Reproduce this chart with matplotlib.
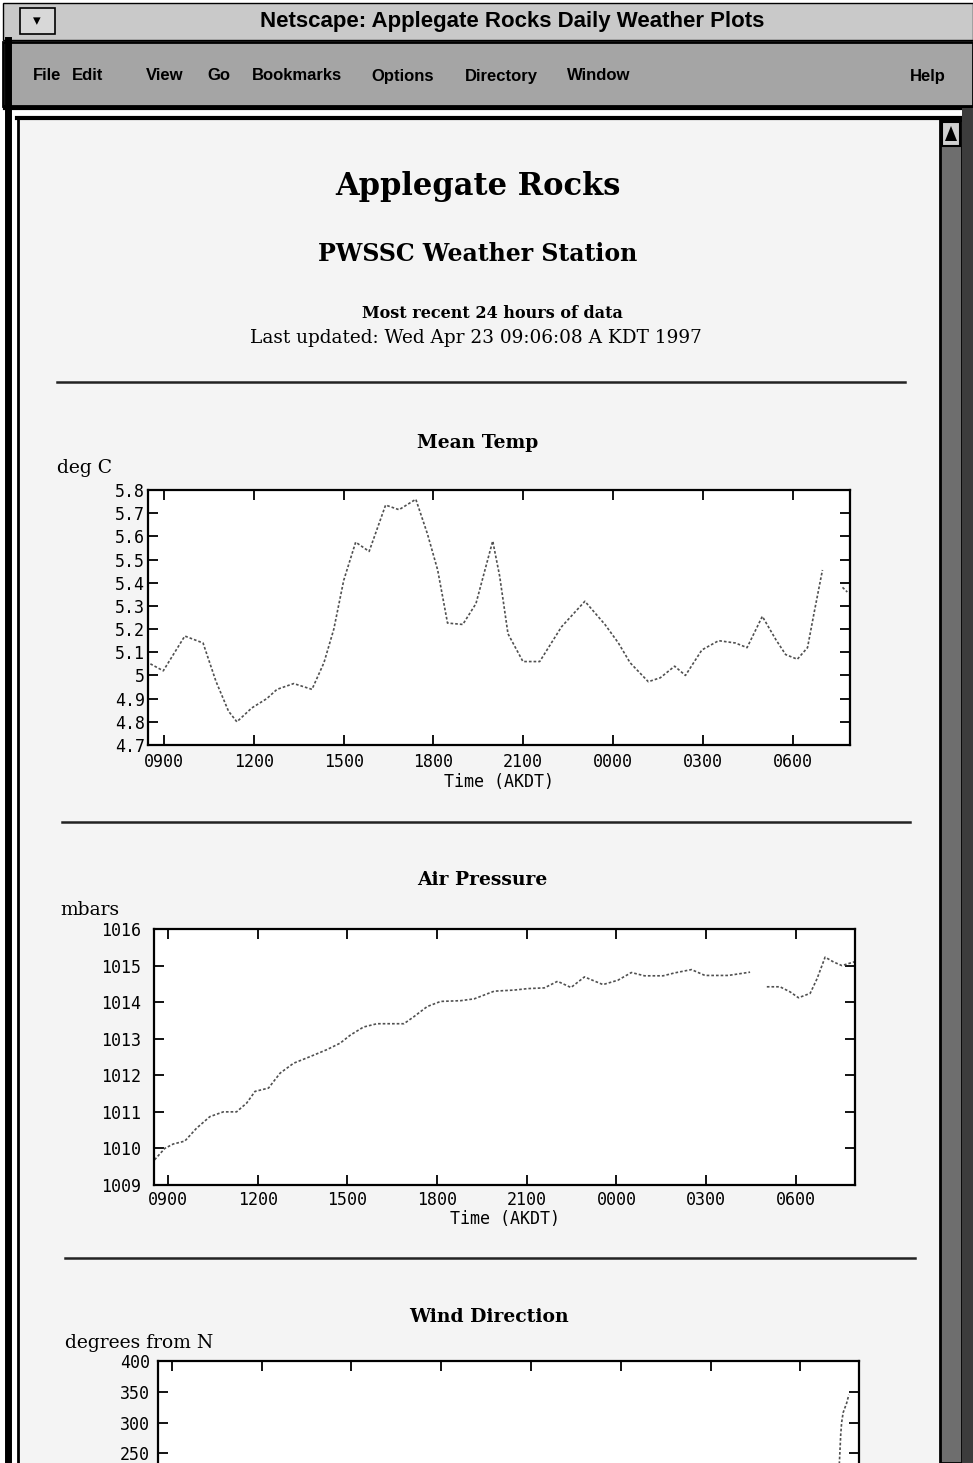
import numpy as np
import matplotlib
matplotlib.use("Agg")
import matplotlib.pyplot as plt
from matplotlib.patches import Rectangle, Polygon

# ---------------- data ----------------
hour_ticks = [9, 12, 15, 18, 21, 24, 27, 30]
hour_labels = ["0900", "1200", "1500", "1800", "2100", "0000", "0300", "0600"]

temp_hours = [8.54, 8.97, 9.69, 10.3, 10.73, 11.15, 11.43, 11.93, 12.43, 12.77,
              13.33, 13.94, 14.34, 14.67, 15.0, 15.4, 15.85, 16.4, 16.85, 17.41,
              17.8, 18.14, 18.47, 18.98, 19.42, 19.98, 20.21, 20.49, 20.99, 21.55,
              22.28, 23.06, 23.73, 24.18, 24.57, 25.18, 25.58, 26.06, 26.42, 26.97,
              27.53, 28.09, 28.48, 28.99, 29.44, 29.77, 30.16, 30.5, 30.72, 31.0,
              np.nan, 31.67, 31.83]
temp_vals = [5.05, 5.02, 5.17, 5.14, 4.975, 4.846, 4.80, 4.86, 4.90, 4.94,
             4.965, 4.94, 5.055, 5.20, 5.41, 5.575, 5.535, 5.735, 5.715, 5.76,
             5.61, 5.455, 5.226, 5.22, 5.31, 5.58, 5.43, 5.18, 5.06, 5.06,
             5.21, 5.32, 5.22, 5.14, 5.055, 4.973, 4.99, 5.04, 5.0, 5.11,
             5.15, 5.14, 5.12, 5.255, 5.155, 5.09, 5.07, 5.12, 5.27, 5.455,
             np.nan, 5.38, 5.36]
temp_yticks = [4.7, 4.8, 4.9, 5.0, 5.1, 5.2, 5.3, 5.4, 5.5, 5.6, 5.7, 5.8]
temp_ylabels = ["4.7", "4.8", "4.9", "5", "5.1", "5.2", "5.3", "5.4", "5.5", "5.6", "5.7", "5.8"]

press_hours = [8.55, 8.89, 9.17, 9.56, 9.95, 10.4, 10.85, 11.29, 11.63, 11.91,
               12.36, 12.75, 13.2, 13.75, 14.31, 14.76, 15.1, 15.54, 15.99, 16.89,
               17.22, 17.67, 18.12, 18.79, 19.24, 19.91, 20.58, 21.03, 21.59, 22.03,
               22.48, 22.93, 23.55, 24.05, 24.5, 24.94, 25.56, 25.95, 26.51, 26.96,
               27.74, 28.47, np.nan, 29.03, 29.47, 29.81, 30.09, 30.48, 30.71, 30.98,
               31.26, 31.54, 31.99]
press_vals = [1009.69, 1010.0, 1010.12, 1010.2, 1010.55, 1010.87, 1011.0, 1011.0, 1011.24, 1011.56,
              1011.65, 1012.06, 1012.33, 1012.51, 1012.7, 1012.88, 1013.1, 1013.32, 1013.41, 1013.41,
              1013.6, 1013.88, 1014.02, 1014.04, 1014.09, 1014.3, 1014.33, 1014.37, 1014.39, 1014.57,
              1014.4, 1014.69, 1014.48, 1014.6, 1014.81, 1014.72, 1014.72, 1014.8, 1014.89, 1014.73,
              1014.73, 1014.82, np.nan, 1014.42, 1014.42, 1014.28, 1014.12, 1014.24, 1014.64, 1015.23,
              1015.1, 1015.0, 1015.11]
press_yticks = [1009, 1010, 1011, 1012, 1013, 1014, 1015, 1016]

wind_hours = [31.30, 31.32, 31.35, 31.38, 31.43, 31.55, 31.62]
wind_vals = [230, 250, 281, 300, 316, 332, 345]
wind_yticks = [250, 300, 350, 400]

menu_items = ["File", "Edit", "View", "Go", "Bookmarks", "Options", "Directory", "Window"]
menu_x = [47, 88, 165, 219, 297, 403, 501, 599]

# ---------------- figure ----------------
W, H = 973, 1463
fig = plt.figure(figsize=(W / 100, H / 100), dpi=100)
fig.patch.set_facecolor("white")

bg = fig.add_axes([0, 0, 1, 1])
bg.set_xlim(0, W)
bg.set_ylim(H, 0)
bg.axis("off")

def rect(x0, y0, x1, y1, fc, ec="none", lw=0, z=0):
    bg.add_patch(Rectangle((x0, y0), x1 - x0, y1 - y0, facecolor=fc,
                           edgecolor=ec, linewidth=lw, zorder=z))

# page background
rect(18, 120, 940, H, "#f4f4f4")
# title bar
rect(3, 3, W, 40, "#c9c9c9", ec="black", lw=1.0)
rect(20, 8, 55, 34, "#d8d8d8", ec="black", lw=1.2, z=1)
bg.text(37, 21, "▾", ha="center", va="center", fontsize=11, color="black", zorder=2)
bg.text(512, 22, "Netscape: Applegate Rocks Daily Weather Plots", ha="center", va="center",
        fontsize=16, fontweight="bold", family="Liberation Sans", color="black", zorder=2)
# menu bar
rect(3, 42, W, 106, "#a5a5a5", ec="black", lw=2.0)
for name, x in zip(menu_items, menu_x):
    bg.text(x, 76, name, ha="center", va="center", fontsize=12, fontweight="bold",
            family="Liberation Sans", color="black", zorder=2)
bg.text(928, 76, "Help", ha="center", va="center", fontsize=12, fontweight="bold",
        family="Liberation Sans", color="black", zorder=2)
# frame lines
bg.plot([5, W], [108, 108], color="black", lw=3, zorder=3)
bg.plot([17, W], [118, 118], color="black", lw=3, zorder=3)
bg.plot([8, 8], [40, H], color="black", lw=5, zorder=3)
bg.plot([18, 18], [118, H], color="black", lw=2, zorder=3)
# scrollbar
rect(940, 120, 962, H, "#6e6e6e", ec="black", lw=2, z=3)
rect(942, 122, 960, 146, "#d0d0d0", ec="black", lw=1.5, z=4)
bg.add_patch(Polygon([[951, 126], [945, 141], [957, 141]], closed=True,
                     facecolor="black", zorder=5))
rect(962, 108, W, H, "#3c3c3c", z=3)

serif = "DejaVu Serif"
bg.text(478, 187, "Applegate Rocks", ha="center", va="center", fontsize=22,
        fontweight="bold", family=serif)
bg.text(478, 254, "PWSSC Weather Station", ha="center", va="center", fontsize=17,
        fontweight="bold", family=serif)
bg.text(492, 313, "Most recent 24 hours of data", ha="center", va="center", fontsize=11.5,
        fontweight="bold", family=serif)
bg.text(476, 338, "Last updated: Wed Apr 23 09:06:08 A KDT 1997", ha="center", va="center",
        fontsize=13.3, family=serif)

# horizontal rules
for (x0, x1, y) in [(57, 905, 382), (62, 910, 822), (65, 915, 1258)]:
    bg.plot([x0, x1], [y, y], color="#222222", lw=1.8)

# section titles
bg.text(478, 443, "Mean Temp", ha="center", va="center", fontsize=13.5, fontweight="bold", family=serif)
bg.text(57, 468, "deg C", ha="left", va="center", fontsize=13.5, family=serif)
bg.text(482, 880, "Air Pressure", ha="center", va="center", fontsize=13.5, fontweight="bold", family=serif)
bg.text(60, 910, "mbars", ha="left", va="center", fontsize=13.5, family=serif)
bg.text(489, 1317, "Wind Direction", ha="center", va="center", fontsize=13.5, fontweight="bold", family=serif)
bg.text(65, 1343, "degrees from N", ha="left", va="center", fontsize=13.5, family=serif)

mono = "DejaVu Sans Mono"

def px_axes(l, t, r, b):
    return fig.add_axes([l / W, 1 - b / H, (r - l) / W, (b - t) / H])

def style(ax, xlim, ylim, yticks, ylabels, xpad, ypad, show_xlabels=True):
    ax.set_facecolor("white")
    ax.set_xlim(*xlim)
    ax.set_ylim(*ylim)
    ax.set_xticks(hour_ticks)
    ax.set_xticklabels(hour_labels if show_xlabels else [])
    ax.set_yticks(yticks)
    ax.set_yticklabels(ylabels)
    ax.tick_params(direction="in", length=7, width=1.3, top=True, right=True,
                   labelsize=12, colors="black")
    ax.tick_params(axis="x", pad=xpad)
    ax.tick_params(axis="y", pad=ypad)
    for lab in ax.get_xticklabels() + ax.get_yticklabels():
        lab.set_family(mono)
    for s in ax.spines.values():
        s.set_linewidth(1.6)
        s.set_color("black")
    if show_xlabels:
        ax.set_xlabel("Time (AKDT)", fontsize=12, family=mono, labelpad=1.0)

line_kw = dict(color="#505050", lw=1.2, linestyle=(0, (1.6, 1.2)))

ax1 = px_axes(148, 490, 850, 745)
ax1.plot(temp_hours, temp_vals, **line_kw)
style(ax1, (8.46, 31.92), (4.7, 5.8), temp_yticks, temp_ylabels, xpad=6, ypad=2)

ax2 = px_axes(154, 929, 855, 1185)
ax2.plot(press_hours, press_vals, **line_kw)
style(ax2, (8.53, 31.98), (1009, 1016), press_yticks, [str(v) for v in press_yticks],
      xpad=4, ypad=9)

ax3 = px_axes(158, 1361, 859, 1607)
ax3.plot(wind_hours, wind_vals, **line_kw)
style(ax3, (8.54, 31.96), (0, 400), wind_yticks, [str(v) for v in wind_yticks],
      xpad=4, ypad=6, show_xlabels=False)

fig.savefig("out.png", dpi=100)
